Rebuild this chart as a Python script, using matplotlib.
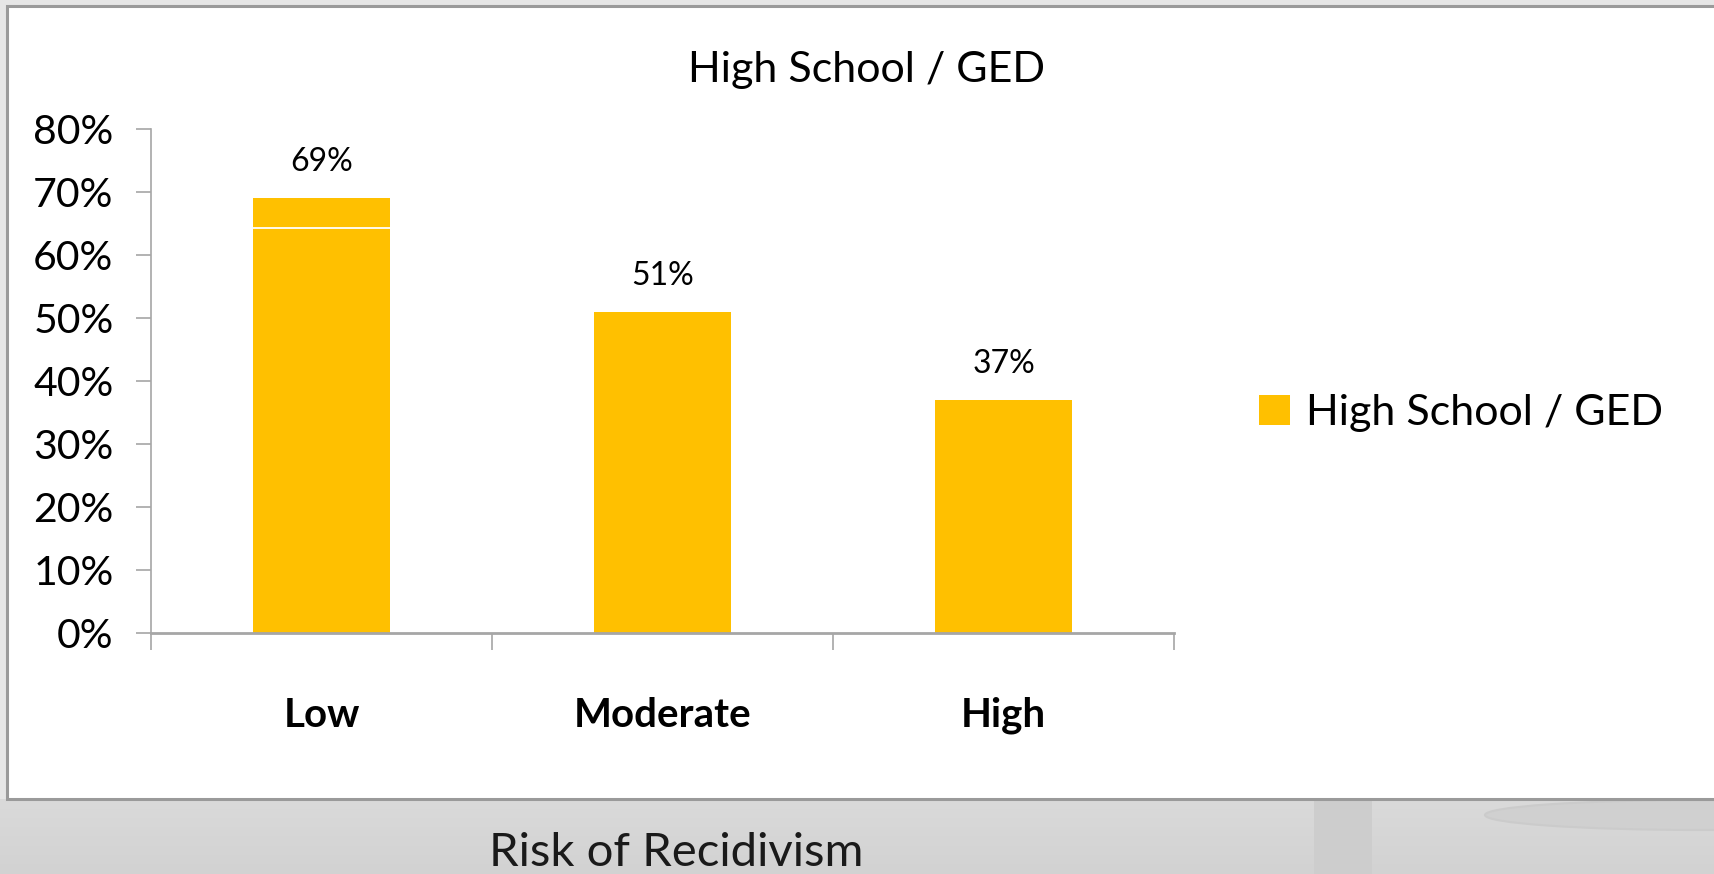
import matplotlib.pyplot as plt
from matplotlib.patches import Rectangle, Ellipse
from matplotlib.ticker import PercentFormatter, FixedLocator
from matplotlib.colors import LinearSegmentedColormap
import numpy as np

# data
categories = ["Low", "Moderate", "High"]
hs_ged = [0.69, 0.51, 0.37]
series_name = "High School / GED"
chart_title = "High School / GED"
x_title = "Risk of Recidivism"
yticks = [0.0, 0.1, 0.2, 0.3, 0.4, 0.5, 0.6, 0.7, 0.8]
low_seam = 0.643  # thin white seam visible inside the Low bar

bar_color = "#FFC000"
axis_grey = "#A6A6A6"

plt.rcParams['font.family'] = ['Lato', 'DejaVu Sans']

W, H = 1715, 874
fig = plt.figure(figsize=(W / 100, H / 100), dpi=100)
fig.patch.set_facecolor("#e6e6e6")

# background (slide look) drawn in pixel coords
bg = fig.add_axes([0, 0, 1, 1], zorder=-10)
bg.set_xlim(0, W)
bg.set_ylim(H, 0)
bg.axis("off")
slide_cmap = LinearSegmentedColormap.from_list("slide", ["#dadada", "#d2d2d2"])
grad = np.linspace(0, 1, 100).reshape(-1, 1)
bg.imshow(grad, extent=(0, W, H, 799), cmap=slide_cmap, aspect="auto", zorder=0)
bg.add_patch(Rectangle((1314, 799), 58, 80, facecolor="#cdcdcd", edgecolor="none", zorder=1))
bg.add_patch(Ellipse((1700, 815), 430, 30, facecolor="#d0d0d0", edgecolor="#cbcbcb", lw=1.5, zorder=1))
bg.add_patch(Rectangle((7, 6), W + 20, 793, facecolor="white", edgecolor="#9a9a9a", lw=2.2, zorder=2))

ax = fig.add_axes([151 / W, 1 - 633 / H, (1174 - 151) / W, (633 - 129) / H])
ax.patch.set_alpha(0)
x = np.arange(len(categories))
bars = ax.bar(x, hs_ged, width=0.4, color=bar_color, label=series_name, zorder=2)

# seam line in Low bar
p = bars[0]
ax.hlines(low_seam, p.get_x(), p.get_x() + p.get_width(), color="white", lw=1.3, zorder=3)

for rect, v in zip(bars, hs_ged):
    ax.annotate(f"{v:.0%}", (rect.get_x() + rect.get_width() / 2, v),
                xytext=(0, 19.5), textcoords="offset points",
                ha="center", va="baseline", fontsize=23, color="black")

ax.set_xlim(-0.5, len(categories) - 0.5)
ax.set_ylim(0, 0.8)
ax.set_yticks(yticks)
ax.yaxis.set_major_formatter(PercentFormatter(1.0, decimals=0))
ax.tick_params(axis="y", direction="out", length=11, width=1.2, color=axis_grey,
               labelsize=29.5, pad=16)

ax.set_xticks(x)
ax.set_xticklabels(categories, fontsize=29, fontweight="bold")
ax.xaxis.set_minor_locator(FixedLocator(np.arange(len(categories) + 1) - 0.5))
ax.tick_params(axis="x", which="major", length=0, pad=46)
ax.tick_params(axis="x", which="minor", direction="out", length=12, width=1.2, color=axis_grey)

for s in ["top", "right"]:
    ax.spines[s].set_visible(False)
ax.spines["left"].set_color(axis_grey)
ax.spines["left"].set_linewidth(1.2)
ax.spines["bottom"].set_color(axis_grey)
ax.spines["bottom"].set_linewidth(2)

fig.text(867 / W, 1 - 82 / H, chart_title, ha="center", va="baseline", fontsize=31)
fig.text(676 / W, 1 - 866 / H, x_title, ha="center", va="baseline", fontsize=34, color="#1a1a1a")

fig.legend(handles=[bars], labels=[series_name], loc="center left",
           bbox_to_anchor=(1259 / W, 1 - 413 / H), frameon=False, fontsize=31,
           handlelength=0.72, handleheight=0.72, handletextpad=0.37,
           borderpad=0, borderaxespad=0)

fig.savefig("out.png", dpi=100, facecolor=fig.get_facecolor())
